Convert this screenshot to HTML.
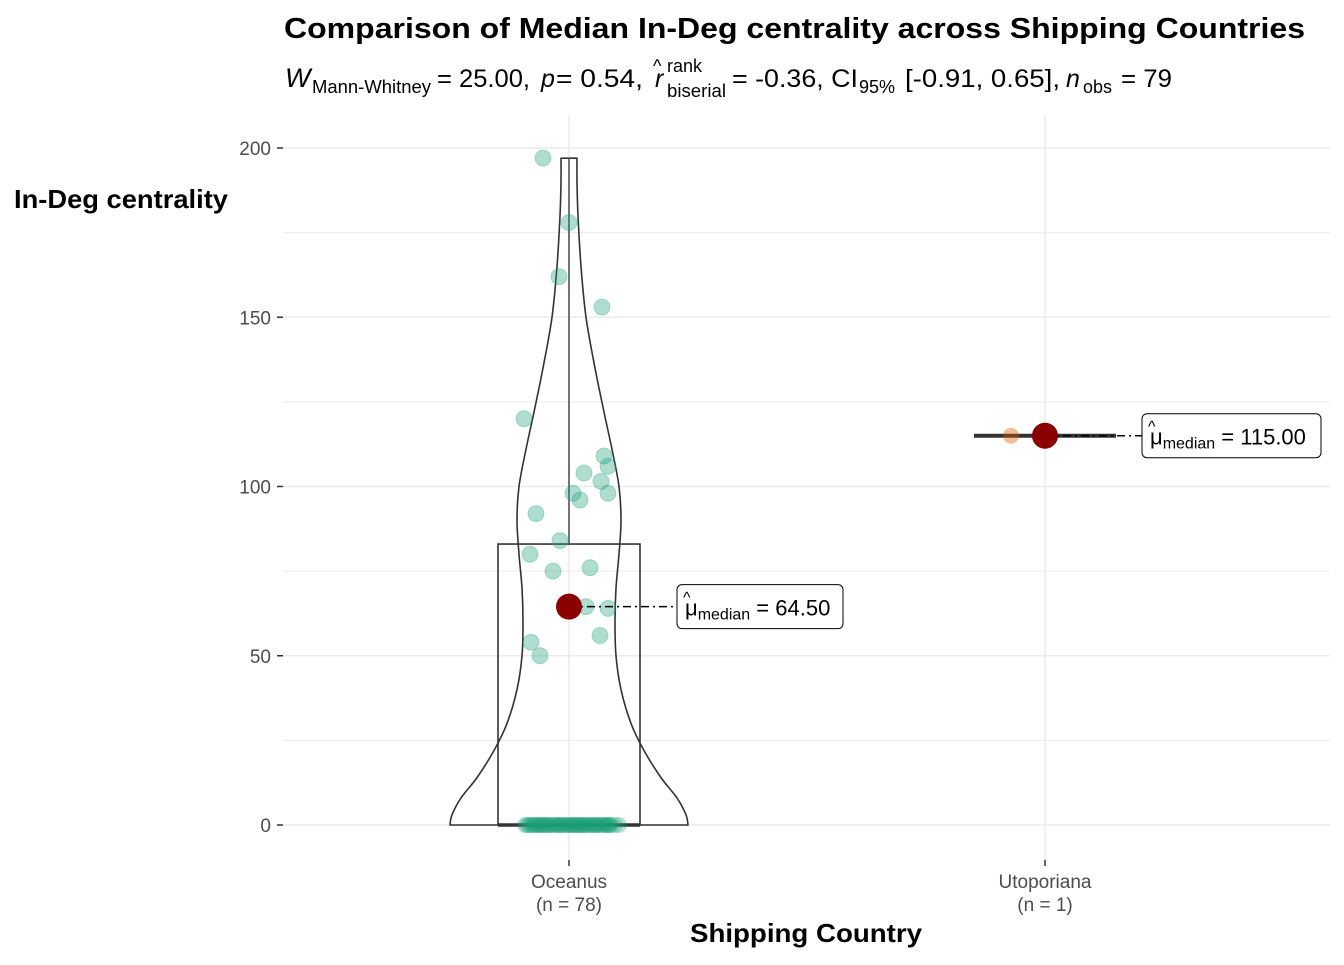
<!DOCTYPE html>
<html><head><meta charset="utf-8"><style>
body{margin:0;background:#fff;}
svg text{font-family:"Liberation Sans",sans-serif;}
</style></head><body>
<svg id="chart" width="1344" height="960" xmlns="http://www.w3.org/2000/svg">
<rect width="1344" height="960" fill="#fff"/>
<g id="grid"></g>
<g id="marks"></g>
<text x="284" y="38" font-size="29" font-weight="bold" textLength="1021" lengthAdjust="spacingAndGlyphs">Comparison of Median In-Deg centrality across Shipping Countries</text>
<g font-size="25">
<text x="285" y="87" font-style="italic" font-size="27">W</text>
<text x="312" y="93" font-size="18" textLength="119" lengthAdjust="spacingAndGlyphs">Mann-Whitney</text>
<text x="437" y="87" textLength="93" lengthAdjust="spacingAndGlyphs">= 25.00,</text>
<text x="541" y="87" font-style="italic">p</text>
<text x="556" y="87" textLength="87" lengthAdjust="spacingAndGlyphs">= 0.54,</text>
<text x="655" y="87" font-style="italic">r</text>
<text x="653" y="72" font-size="18">^</text>
<text x="667" y="72" font-size="18">rank</text>
<text x="667" y="97" font-size="18" textLength="59" lengthAdjust="spacingAndGlyphs">biserial</text>
<text x="732" y="87" textLength="126" lengthAdjust="spacingAndGlyphs">= -0.36, CI</text>
<text x="859" y="93" font-size="18">95%</text>
<text x="905" y="87" textLength="155" lengthAdjust="spacingAndGlyphs">[-0.91, 0.65],</text>
<text x="1066" y="87" font-style="italic">n</text>
<text x="1083" y="93" font-size="18">obs</text>
<text x="1121" y="87" textLength="51" lengthAdjust="spacingAndGlyphs">= 79</text>
</g>
<text x="14" y="208" font-size="26" font-weight="bold" textLength="214" lengthAdjust="spacingAndGlyphs">In-Deg centrality</text>
<text x="690" y="942" font-size="26" font-weight="bold" textLength="232" lengthAdjust="spacingAndGlyphs">Shipping Country</text>
</svg>
<script>
const categories=["Oceanus","Utoporiana"];
const counts=[78,1];
const medians=[64.5,115];
const yTicks=[0,50,100,150,200];
const oceanusValues=[197,178,162,153,120,109,106,104,101.5,98,98,96,92,84,80,75,76,64.5,64.5,64,56,54,50];
const oceanusJitter=[-26,0,-10,33,-45,35,39,15,32,39,4,11,-33,-9,-39,-16,21,-4,17,39,31,-38,-29];
const zeroJitter=[-44,-40,-36,-33,-30,-27,-24,-21,-18,-15,-12,-9,-6,-3,0,3,6,9,12,15,18,21,24,27,30,33,36,39,42,46,50,-42,-38,-31,-25,-19,-13,-7,-1,5,11,17,23,29,35,41,-35,-22,-10,2,14,26,38,-28,8];
const utoValues=[115];
const utoJitter=[-34];
const boxStats=[0,0,83,197];
const violinVals=[0,3,8,14,22,30,40,50,60,70,80,90,100,111,122,135,150,165,180,190,197];
const violinHalf=[119,117,108,92,75,62,52,47,46,47,50,52,50,43,35,26,17,12,9,8,8];
const NS="http://www.w3.org/2000/svg";
const X0=283,X1=1330,YT=115,YB=860;
function yS(v){return 825-v*(677/200);}
function xS(i){return 569+i*476;}
function el(t,a,p){const e=document.createElementNS(NS,t);for(const k in a)e.setAttribute(k,a[k]);(p||document.getElementById('marks')).appendChild(e);return e;}
function smooth(pts){let d='M'+pts[0][0]+','+pts[0][1];for(let i=0;i<pts.length-1;i++){const p0=pts[Math.max(i-1,0)],p1=pts[i],p2=pts[i+1],p3=pts[Math.min(i+2,pts.length-1)];
const c1=[p1[0]+(p2[0]-p0[0])/6,p1[1]+(p2[1]-p0[1])/6],c2=[p2[0]-(p3[0]-p1[0])/6,p2[1]-(p3[1]-p1[1])/6];
d+=' C'+c1[0]+','+c1[1]+' '+c2[0]+','+c2[1]+' '+p2[0]+','+p2[1];}return d;}
const grid=document.getElementById('grid');
for(let i=0;i<yTicks.length-1;i++){const m=(yTicks[i]+yTicks[i+1])/2;
const g=el('line',{x1:X0,x2:X1,y1:yS(m),y2:yS(m),stroke:'#ebebeb','stroke-width':1},grid);

}
yTicks.forEach(t=>{
const g=el('line',{x1:X0,x2:X1,y1:yS(t),y2:yS(t),stroke:'#ebebeb','stroke-width':1.6},grid);


const tk=el('line',{x1:277,x2:283,y1:yS(t),y2:yS(t),stroke:'#333','stroke-width':1.5},grid);


const tx=el('text',{x:271,y:yS(t)+7,'font-size':19,'text-anchor':'end',fill:'#4d4d4d'},grid);tx.textContent=t;

});
categories.forEach((c,i)=>{
const g=el('line',{x1:xS(i),x2:xS(i),y1:YT,y2:YB,stroke:'#ebebeb','stroke-width':1.6},grid);


const tk=el('line',{x1:xS(i),x2:xS(i),y1:860,y2:866,stroke:'#333','stroke-width':1.5},grid);


const t1=el('text',{x:xS(i),y:888,'font-size':19,'text-anchor':'middle',fill:'#4d4d4d'},grid);t1.textContent=c;


const t2=el('text',{x:xS(i),y:911,'font-size':19,'text-anchor':'middle',fill:'#4d4d4d'},grid);t2.textContent='(n = '+counts[i]+')';

});
const cx=xS(0);
const Lp=violinVals.map((v,k)=>[cx-violinHalf[k],yS(v)]);
const Rp=violinVals.map((v,k)=>[cx+violinHalf[k],yS(v)]).reverse();
const d=smooth(Lp)+' L'+Rp[0][0]+','+Rp[0][1]+smooth(Rp).replace(/^M[^ C]+/,'')+' Z';
const vp=el('path',{d:d,fill:'none',stroke:'#333','stroke-width':1.6,'stroke-linejoin':'round'});


const bx=el('rect',{x:cx-71,y:yS(boxStats[2]),width:142,height:yS(boxStats[1])-yS(boxStats[2]),fill:'none',stroke:'#333','stroke-width':1.6});


const wh=el('line',{x1:cx,x2:cx,y1:yS(boxStats[2]),y2:yS(boxStats[3]),stroke:'#555','stroke-width':1.6});


const md=el('line',{x1:cx-71,x2:cx+71,y1:yS(boxStats[0]),y2:yS(boxStats[0]),stroke:'#333','stroke-width':3.5});


oceanusValues.forEach((v,k)=>{const p=el('circle',{cx:cx+oceanusJitter[k],cy:yS(v),r:8,fill:'#1b9e77','fill-opacity':0.35,stroke:'#1b9e77','stroke-opacity':0.3});

});
zeroJitter.forEach(j=>{const p=el('circle',{cx:cx+j,cy:yS(0),r:8,fill:'#1b9e77','fill-opacity':0.3});

});
const ub=el('line',{x1:xS(1)-71,x2:xS(1)+71,y1:yS(utoValues[0]),y2:yS(utoValues[0]),stroke:'#333','stroke-width':4});


utoValues.forEach((v,k)=>{const p=el('circle',{cx:xS(1)+utoJitter[k],cy:yS(v),r:8,fill:'#d95f02','fill-opacity':0.4});

});
const labX=[677,1142],labW=[166,179];
medians.forEach((m,i)=>{
const y=yS(m);
const ln=el('line',{x1:xS(i),x2:labX[i],y1:y,y2:y,stroke:'#000','stroke-width':1.5,'stroke-dasharray':'8,4,2,4'});


const c=el('circle',{cx:xS(i),cy:y,r:13,fill:'#8b0000'});


const b=el('rect',{x:labX[i],y:y-22,width:labW[i],height:44,rx:5,fill:'#fff',stroke:'#000','stroke-width':1});


const t=el('text',{x:labX[i]+8,y:y+9,'font-size':22});


t.innerHTML='μ<tspan font-size="16" dy="4">median</tspan><tspan dy="-4"> = '+m.toFixed(2)+'</tspan>';
const h=el('text',{x:labX[i]+6,y:y-4,'font-size':16});h.textContent='^';


});
</script>
</body></html>
